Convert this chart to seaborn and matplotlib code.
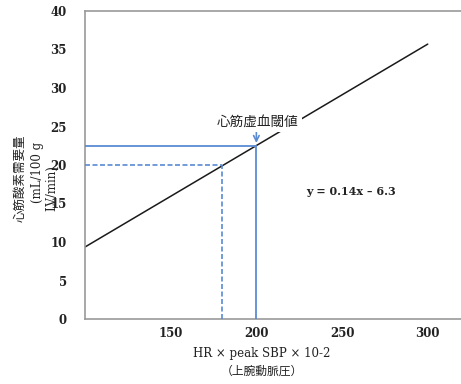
import matplotlib
matplotlib.use("Agg")
import matplotlib.pyplot as plt
import seaborn as sns
import pandas as pd

# data
line_x = [100, 300]
line_y = [9.35, 35.7]
thr_x = 200
thr_y = 22.5
ref_x = 180
ref_y = 20
x_ticks = [150, 200, 250, 300]
y_ticks = [0, 5, 10, 15, 20, 25, 30, 35, 40]
equation = "y = 0.14x – 6.3"
annot = "心筋虚血閾値"

sns.set_style("white")
FAM = ["DejaVu Serif", "Noto Sans CJK JP"]
plt.rcParams["font.family"] = FAM

fig = plt.figure(figsize=(4.61, 3.84), dpi=100)
ax = fig.add_axes([85/461, 65/384, (462-85)/461, 308/384])

df = pd.DataFrame({"x": line_x, "y": line_y})
sns.lineplot(data=df, x="x", y="y", ax=ax, color="#1a1a1a", lw=1.1, zorder=2)

blue = "#5a8ad2"
ax.plot([100, thr_x], [thr_y, thr_y], color=blue, lw=1.3, zorder=3)
ax.plot([thr_x, thr_x], [0, thr_y], color=blue, lw=1.3, zorder=3)
ax.plot([100, ref_x], [ref_y, ref_y], color=blue, lw=1.2, ls=(0, (3, 1.5)), zorder=3)
ax.plot([ref_x, ref_x], [0, ref_y], color=blue, lw=1.2, ls=(0, (3, 1.5)), zorder=3)

ax.annotate("", xy=(thr_x, thr_y), xytext=(thr_x, 24.6),
            arrowprops=dict(arrowstyle="->", color=blue, lw=1.2), zorder=4)
ax.text(thr_x + 0.5, 25.6, annot, ha="center", va="center", fontsize=9.8,
        family=["Noto Sans CJK JP"], color="#222",
        bbox=dict(facecolor="white", edgecolor="none", pad=2.5), zorder=5)
ax.text(255, 16.5, equation, ha="center", va="center", fontsize=8,
        fontweight="bold", color="#222")

ax.set_xlim(100, 320)
ax.set_ylim(0, 40)
ax.set_xticks(x_ticks)
ax.set_yticks(y_ticks)
ax.tick_params(axis="both", direction="in", length=4, width=0.8, color="#555",
               labelsize=8.5, labelcolor="#222")
ax.tick_params(axis="y", pad=13)
ax.tick_params(axis="x", pad=6)
for lab in ax.get_yticklabels() + ax.get_xticklabels():
    lab.set_fontweight("bold")
ax.set_xlabel("")
ax.set_ylabel("")
for s in ["top", "bottom", "left"]:
    ax.spines[s].set_color("#999")
    ax.spines[s].set_linewidth(1.2)
ax.spines["right"].set_visible(False)

fig.text(262/461, 1 - 354/384, "HR × peak SBP × 10-2", ha="center", va="center",
         fontsize=8.5, color="#222")
fig.text(262/461, 1 - 371/384, "（上腕動脈圧）", ha="center", va="center",
         fontsize=8.5, family=["Noto Sans CJK JP"], color="#222")
fig.text(20/461, 1 - 178/384, "心筋酸素需要量", rotation=90, ha="center", va="center",
         fontsize=9, family=["Noto Sans CJK JP"], color="#222")
fig.text(37/461, 1 - 172/384, "(mL/100 g", rotation=90, ha="center", va="center",
         fontsize=8.5, color="#222")
fig.text(52/461, 1 - 188/384, "LV/min)", rotation=90, ha="center", va="center",
         fontsize=8.5, color="#222")

fig.savefig("out.png", dpi=100)
